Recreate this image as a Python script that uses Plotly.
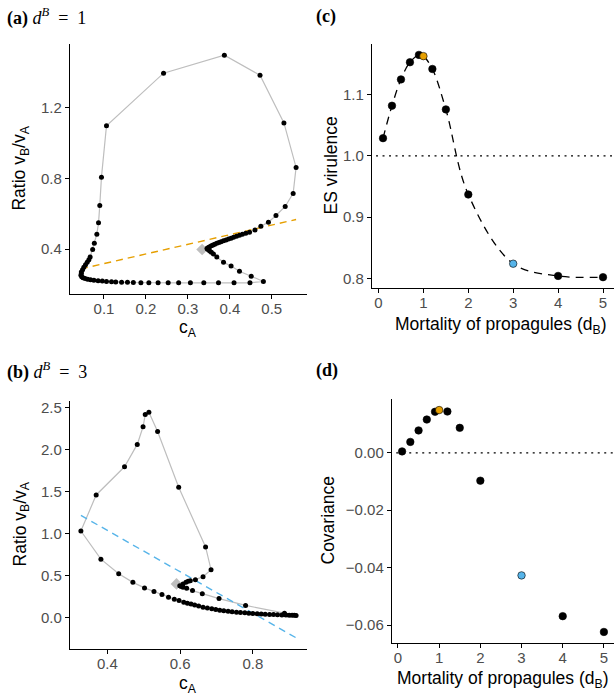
import plotly.graph_objects as go

# ---- panel (a): d_B = 1 trajectory (c_A, v_B/v_A) ----
a_c = [0.346, 0.349, 0.352, 0.356, 0.360, 0.364, 0.369, 0.374, 0.379, 0.385,
       0.391, 0.397, 0.403, 0.409, 0.416, 0.423, 0.430, 0.438, 0.447, 0.460,
       0.474, 0.492, 0.510, 0.532, 0.551, 0.558, 0.529, 0.472, 0.387, 0.242,
       0.106, 0.094, 0.090, 0.087, 0.083, 0.077, 0.073, 0.067, 0.064, 0.060,
       0.056, 0.052, 0.049, 0.046, 0.046, 0.045, 0.047, 0.050, 0.055, 0.061,
       0.068, 0.076, 0.086, 0.096, 0.106, 0.118, 0.128, 0.142, 0.156, 0.170,
       0.188, 0.207, 0.229, 0.253, 0.278, 0.306, 0.338, 0.373, 0.410, 0.448,
       0.480, 0.451, 0.423, 0.403, 0.385, 0.369, 0.361, 0.356, 0.352, 0.348,
       0.346]
a_v = [0.405, 0.410, 0.414, 0.419, 0.424, 0.428, 0.433, 0.437, 0.442, 0.447,
       0.452, 0.457, 0.462, 0.467, 0.473, 0.479, 0.485, 0.490, 0.496, 0.509,
       0.530, 0.553, 0.591, 0.642, 0.716, 0.863, 1.115, 1.385, 1.499, 1.397,
       1.099, 0.808, 0.648, 0.549, 0.485, 0.434, 0.398, 0.355, 0.340, 0.326,
       0.312, 0.298, 0.284, 0.270, 0.262, 0.252, 0.243, 0.238, 0.234, 0.230,
       0.227, 0.224, 0.221, 0.219, 0.217, 0.215, 0.214, 0.213, 0.212, 0.211,
       0.210, 0.209, 0.209, 0.209, 0.209, 0.209, 0.209, 0.209, 0.209, 0.209,
       0.217, 0.247, 0.275, 0.304, 0.326, 0.355, 0.372, 0.382, 0.390, 0.398,
       0.402]
a_start = (0.334, 0.398)
a_fit_c = [0.045, 0.558]
a_fit_v = [0.288, 0.568]

# ---- panel (b): d_B = 3 trajectory ----
b_c = [0.599, 0.608, 0.616, 0.622, 0.628, 0.642, 0.663, 0.685, 0.670, 0.596,
       0.538, 0.514, 0.504, 0.498, 0.482, 0.447, 0.369, 0.327, 0.382, 0.431,
       0.470, 0.502, 0.528, 0.550, 0.568, 0.584, 0.597, 0.610, 0.620, 0.630,
       0.640, 0.651, 0.663, 0.675, 0.687, 0.698, 0.709, 0.720, 0.732, 0.743,
       0.755, 0.766, 0.778, 0.789, 0.800, 0.812, 0.823, 0.834, 0.846, 0.857,
       0.868, 0.880, 0.891, 0.900, 0.908, 0.914, 0.919, 0.887, 0.780, 0.707,
       0.661, 0.634, 0.618, 0.608, 0.603]
b_v = [0.382, 0.402, 0.421, 0.433, 0.441, 0.453, 0.489, 0.572, 0.844, 1.554,
       2.220, 2.450, 2.421, 2.276, 2.066, 1.799, 1.463, 1.033, 0.698, 0.524,
       0.421, 0.355, 0.311, 0.276, 0.244, 0.220, 0.205, 0.185, 0.172, 0.162,
       0.151, 0.138, 0.125, 0.115, 0.106, 0.098, 0.090, 0.084, 0.078, 0.072,
       0.066, 0.062, 0.058, 0.054, 0.051, 0.048, 0.045, 0.042, 0.039, 0.037,
       0.035, 0.033, 0.031, 0.030, 0.029, 0.028, 0.027, 0.054, 0.146, 0.228,
       0.284, 0.323, 0.350, 0.362, 0.372]
b_start = (0.590, 0.402)
b_fit_c = [0.327, 0.919]
b_fit_v = [1.220, -0.240]

# ---- panels (c), (d): ES virulence and covariance vs d_B ----
d_B = [0.1, 0.3, 0.5, 0.7, 0.9, 1.0, 1.2, 1.5, 2, 3, 4, 5]
es_vir = [1.029, 1.082, 1.125, 1.153, 1.165, 1.163, 1.142, 1.076, 0.937,
          0.824, 0.804, 0.802]
cov = [0.0005, 0.0038, 0.0078, 0.0116, 0.0143, 0.0149, 0.0144, 0.0087,
       -0.0097, -0.0427, -0.0569, -0.0624]
highlight = {1.0: "#E69F00", 3: "#56B4E9"}

W, H = 614, 696
ORANGE, BLUE, GREY = "#E69F00", "#56B4E9", "#BEBEBE"
SANS = "Liberation Sans"


def px_x(p):
    return p / W


def px_y(p):
    return 1 - p / H


fig = go.Figure()


def trajectory(c, v, start, fit_c, fit_v, fit_color, xa, ya):
    fig.add_trace(go.Scatter(x=c, y=v, mode="lines", xaxis=xa, yaxis=ya,
                             line=dict(color=GREY, width=1.2), showlegend=False))
    fig.add_trace(go.Scatter(x=fit_c, y=fit_v, mode="lines", xaxis=xa, yaxis=ya,
                             line=dict(color=fit_color, width=1.4, dash="7px,5px"),
                             showlegend=False))
    fig.add_trace(go.Scatter(x=[start[0]], y=[start[1]], mode="markers",
                             xaxis=xa, yaxis=ya,
                             marker=dict(symbol="diamond", size=9, color=GREY),
                             showlegend=False))
    fig.add_trace(go.Scatter(x=c, y=v, mode="markers", xaxis=xa, yaxis=ya,
                             marker=dict(color="black", size=5), showlegend=False))


trajectory(a_c, a_v, a_start, a_fit_c, a_fit_v, ORANGE, "x", "y")
trajectory(b_c, b_v, b_start, b_fit_c, b_fit_v, BLUE, "x2", "y2")

pt_colors = [highlight.get(d, "black") for d in d_B]

# (c)
fig.add_trace(go.Scatter(x=d_B, y=es_vir, mode="lines", xaxis="x3", yaxis="y3",
                         line=dict(color="black", width=1.3, dash="8px,6px",
                                   shape="spline", smoothing=1.0),
                         showlegend=False))
fig.add_trace(go.Scatter(x=[-0.2, 5.3], y=[1.0, 1.0], mode="lines",
                         xaxis="x3", yaxis="y3",
                         line=dict(color="black", width=1.2, dash="2px,4.5px"),
                         showlegend=False))
fig.add_trace(go.Scatter(x=d_B, y=es_vir, mode="markers", xaxis="x3", yaxis="y3",
                         marker=dict(color=pt_colors, size=7.5,
                                     line=dict(color="black", width=0.6)),
                         showlegend=False, cliponaxis=False))
# (d)
fig.add_trace(go.Scatter(x=[-0.2, 5.3], y=[0, 0], mode="lines",
                         xaxis="x4", yaxis="y4",
                         line=dict(color="black", width=1.2, dash="2px,4.5px"),
                         showlegend=False))
fig.add_trace(go.Scatter(x=d_B, y=cov, mode="markers", xaxis="x4", yaxis="y4",
                         marker=dict(color=pt_colors, size=7.5,
                                     line=dict(color="black", width=0.6)),
                         showlegend=False, cliponaxis=False))

axis_style = dict(showline=True, linecolor="black", linewidth=1.4,
                  ticks="outside", ticklen=4, tickwidth=1.1, tickcolor="black",
                  tickfont=dict(family=SANS, size=15, color="#4D4D4D"),
                  showgrid=False, zeroline=False)
x_style = dict(axis_style, ticklabelstandoff=-3)

fig.update_layout(
    width=W, height=H,
    margin=dict(l=0, r=0, t=0, b=0),
    paper_bgcolor="white", plot_bgcolor="white",
    xaxis=dict(domain=[px_x(70), px_x(307)], range=[0.019, 0.584],
               tickvals=[0.1, 0.2, 0.3, 0.4, 0.5], anchor="y", **x_style),
    yaxis=dict(domain=[px_y(293), px_y(42)], range=[0.145, 1.563],
               tickvals=[0.4, 0.8, 1.2], anchor="x", **axis_style),
    xaxis2=dict(domain=[px_x(70), px_x(307)], range=[0.297, 0.949],
                tickvals=[0.4, 0.6, 0.8], anchor="y2", **x_style),
    yaxis2=dict(domain=[px_y(649), px_y(400)], range=[-0.375, 2.585],
                tickvals=[0, 0.5, 1, 1.5, 2, 2.5], tickformat=".1f",
                anchor="x2", **axis_style),
    xaxis3=dict(domain=[px_x(372), 1], range=[-0.145, 5.245],
                tickvals=[0, 1, 2, 3, 4, 5], anchor="y3", **x_style),
    yaxis3=dict(domain=[px_y(287), px_y(42)], range=[0.784, 1.183],
                tickvals=[0.8, 0.9, 1.0, 1.1], tickformat=".1f",
                anchor="x3", **axis_style),
    xaxis4=dict(domain=[px_x(392), 1], range=[-0.145, 5.245],
                tickvals=[0, 1, 2, 3, 4, 5], anchor="y4", **x_style),
    yaxis4=dict(domain=[px_y(643), px_y(398)], range=[-0.0663, 0.0188],
                tickvals=[0, -0.02, -0.04, -0.06], tickformat=".2f",
                anchor="x4", **axis_style),
)

title_font = dict(family=SANS, size=17.5, color="black")
label_font = dict(family="Liberation Serif", size=18, color="black")


def note(text, x, y, font, angle=0, xanchor="center"):
    fig.add_annotation(text=text, x=px_x(x), y=px_y(y), xref="paper",
                       yref="paper", showarrow=False, font=font,
                       textangle=angle, xanchor=xanchor, yanchor="middle")


# axis titles
note("c<sub>A</sub>", 188, 327, title_font)
note("Ratio v<sub>B</sub>/v<sub>A</sub>", 21, 167, title_font, angle=-90)
note("c<sub>A</sub>", 188, 684, title_font)
note("Ratio v<sub>B</sub>/v<sub>A</sub>", 21, 524, title_font, angle=-90)
note("Mortality of propagules (d<sub>B</sub>)", 500, 324, title_font)
note("ES virulence", 331, 164, title_font, angle=-90)
note("Mortality of propagules (d<sub>B</sub>)", 502, 679, title_font)
note("Covariance", 328, 520, title_font, angle=-90)

# panel labels
note("<b>(a)</b> <i>d</i><sup><i>B</i></sup>&nbsp;&nbsp;=&nbsp;&nbsp;1", 5, 15,
     label_font, xanchor="left")
note("<b>(b)</b> <i>d</i><sup><i>B</i></sup>&nbsp;&nbsp;=&nbsp;&nbsp;3", 5, 370,
     label_font, xanchor="left")
note("<b>(c)</b>", 314, 15, label_font, xanchor="left")
note("<b>(d)</b>", 314, 370, label_font, xanchor="left")

fig.write_html("out.html", config={"displayModeBar": False},
               post_script="document.body.style.margin='0';")
